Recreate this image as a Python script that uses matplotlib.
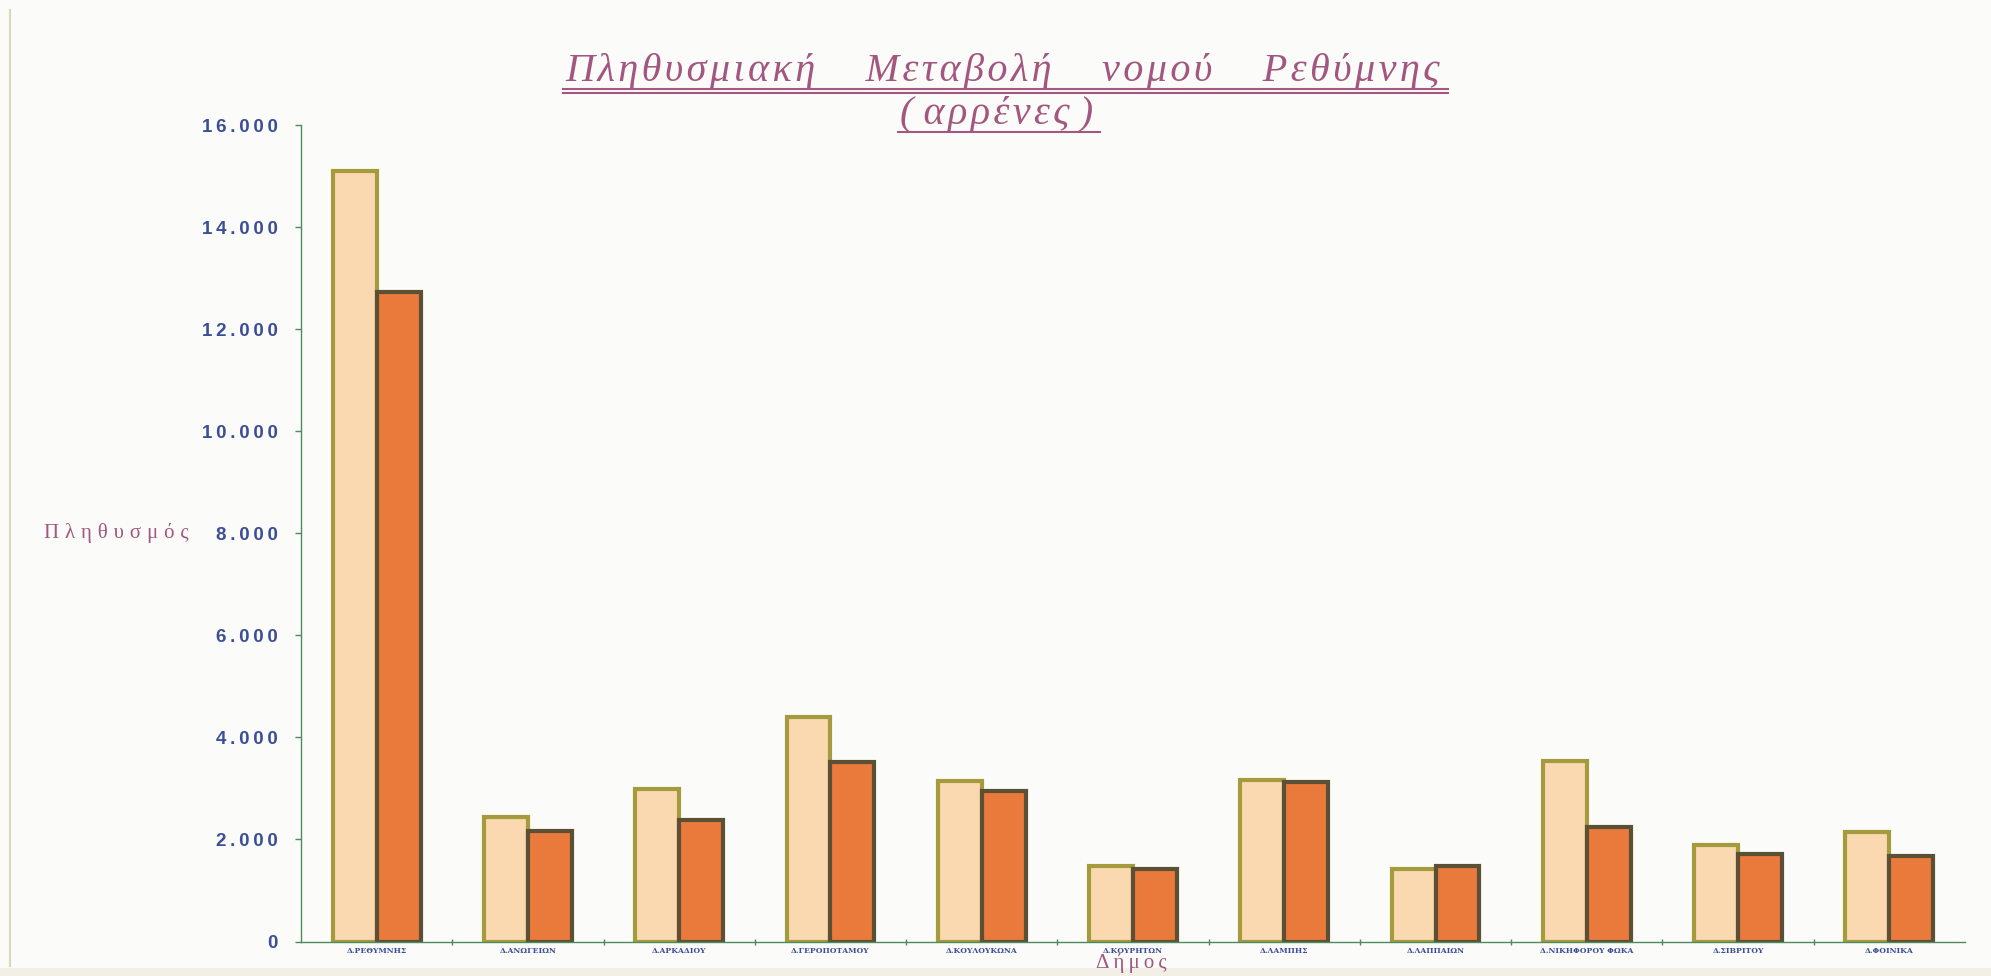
import matplotlib
matplotlib.use('Agg')
import matplotlib.pyplot as plt
import numpy as np
from matplotlib.lines import Line2D
from matplotlib.patches import Rectangle

categories = ['Δ.ΡΕΘΥΜΝΗΣ', 'Δ.ΑΝΩΓΕΙΩΝ', 'Δ.ΑΡΚΑΔΙΟΥ', 'Δ.ΓΕΡΟΠΟΤΑΜΟΥ',
              'Δ.ΚΟΥΛΟΥΚΩΝΑ', 'Δ.ΚΟΥΡΗΤΩΝ', 'Δ.ΛΑΜΠΗΣ', 'Δ.ΛΑΠΠΑΙΩΝ',
              'Δ.ΝΙΚΗΦΟΡΟΥ ΦΩΚΑ', 'Δ.ΣΙΒΡΙΤΟΥ', 'Δ.ΦΟΙΝΙΚΑ']
values_first = [15100, 2440, 2990, 4390, 3150, 1470, 3160, 1420, 3540, 1890, 2150]
values_second = [12730, 2170, 2380, 3520, 2950, 1430, 3130, 1470, 2250, 1710, 1680]
yticks = [0, 2000, 4000, 6000, 8000, 10000, 12000, 14000, 16000]
ytick_labels = ['0', '2.000', '4.000', '6.000', '8.000', '10.000', '12.000', '14.000', '16.000']

title_line1 = 'Πληθυσμιακή Μεταβολή νομού Ρεθύμνης'
title_line2 = '( αρρένες )'
ylabel = 'Πληθυσμός'
xlabel = 'Δήμος'


def spaced(s, sep, wordsep=' '):
    """Letter-spacing: put a narrow space between the letters of each word."""
    return wordsep.join(sep.join(word) if word else '' for word in s.split(' '))


W, H = 1991, 976
fig = plt.figure(figsize=(W / 100, H / 100), dpi=100)
fig.patch.set_facecolor('#FBFCF9')

# faint page frame
fig.add_artist(Line2D([10 / W, 10 / W], [0.01, 0.99], transform=fig.transFigure,
                      color='#D9D9B8', lw=1.5))
fig.add_artist(Rectangle((0, 0), 1, 8 / H, transform=fig.transFigure,
                         facecolor='#F2F0E6', edgecolor='none'))

ax = fig.add_axes([301 / W, 34.5 / H, 1664 / W, 816.5 / H])
ax.set_facecolor('none')

x = np.arange(len(categories))
w = 0.29
ax.bar(x - w / 2, values_first, w, color='#FAD8B0', edgecolor='#A39B3C',
       linewidth=3.0, zorder=3)
ax.bar(x + w / 2, values_second, w, color='#EA7A3C', edgecolor='#5B5036',
       linewidth=3.0, zorder=3)

ax.set_xlim(-0.5, len(categories) - 0.5)
ax.set_ylim(0, 16000)

axis_green = '#4E8A5E'
for s in ['top', 'right']:
    ax.spines[s].set_visible(False)
for s in ['left', 'bottom']:
    ax.spines[s].set_color(axis_green)
    ax.spines[s].set_linewidth(1.0)
    ax.spines[s].set_zorder(4)

ax.set_yticks(yticks)
ax.set_yticklabels([spaced(t, '\u2009') for t in ytick_labels])
ax.tick_params(axis='y', direction='out', length=4.5, width=1.0, color=axis_green,
               pad=12, labelsize=13.5, labelcolor='#3C4E98')
for lab in ax.get_yticklabels():
    lab.set_fontfamily(['Liberation Sans', 'DejaVu Sans'])
    lab.set_fontweight('bold')

ax.set_xticks(x)
ax.set_xticklabels(categories)
ax.set_xticks(np.arange(len(categories) - 1) + 0.5, minor=True)
ax.tick_params(axis='x', which='major', length=0, pad=4, labelsize=5.5,
               labelcolor='#3C4E98')
ax.tick_params(axis='x', which='minor', direction='inout', length=4, width=1.0,
               color=axis_green)
for lab in ax.get_xticklabels():
    lab.set_fontfamily('DejaVu Serif')
    lab.set_fontweight('bold')

serif = ['Liberation Serif', 'DejaVu Serif']
title_color = '#A3567F'
fig.text(1003 / W, 1 - 81 / H, spaced(title_line1, '\u200a', ' \u2003'), ha='center',
         va='baseline', fontsize=29, style='italic', family=serif, color=title_color)
fig.add_artist(Line2D([563 / W, 1448 / W], [1 - 89 / H, 1 - 89 / H],
                      transform=fig.transFigure, color=title_color, lw=1.5))
fig.add_artist(Line2D([563 / W, 1448 / W], [1 - 93 / H, 1 - 93 / H],
                      transform=fig.transFigure, color=title_color, lw=1.5))
fig.text(997 / W, 1 - 124 / H, spaced(title_line2, '\u200a'), ha='center',
         va='baseline', fontsize=29, style='italic', family=serif, color=title_color)
fig.add_artist(Line2D([898 / W, 1100 / W], [1 - 132 / H, 1 - 132 / H],
                      transform=fig.transFigure, color=title_color, lw=1.5))

fig.text(116 / W, 1 - 533 / H, spaced(ylabel, '\u2009\u200a'), ha='center',
         va='center', fontsize=15, family=serif, color=title_color)
fig.text(1131 / W, 1 - 953 / H, spaced(xlabel, '\u2009'), ha='center', va='top',
         fontsize=15, family=serif, color=title_color)

fig.savefig('out.png', dpi=100, facecolor=fig.get_facecolor())
